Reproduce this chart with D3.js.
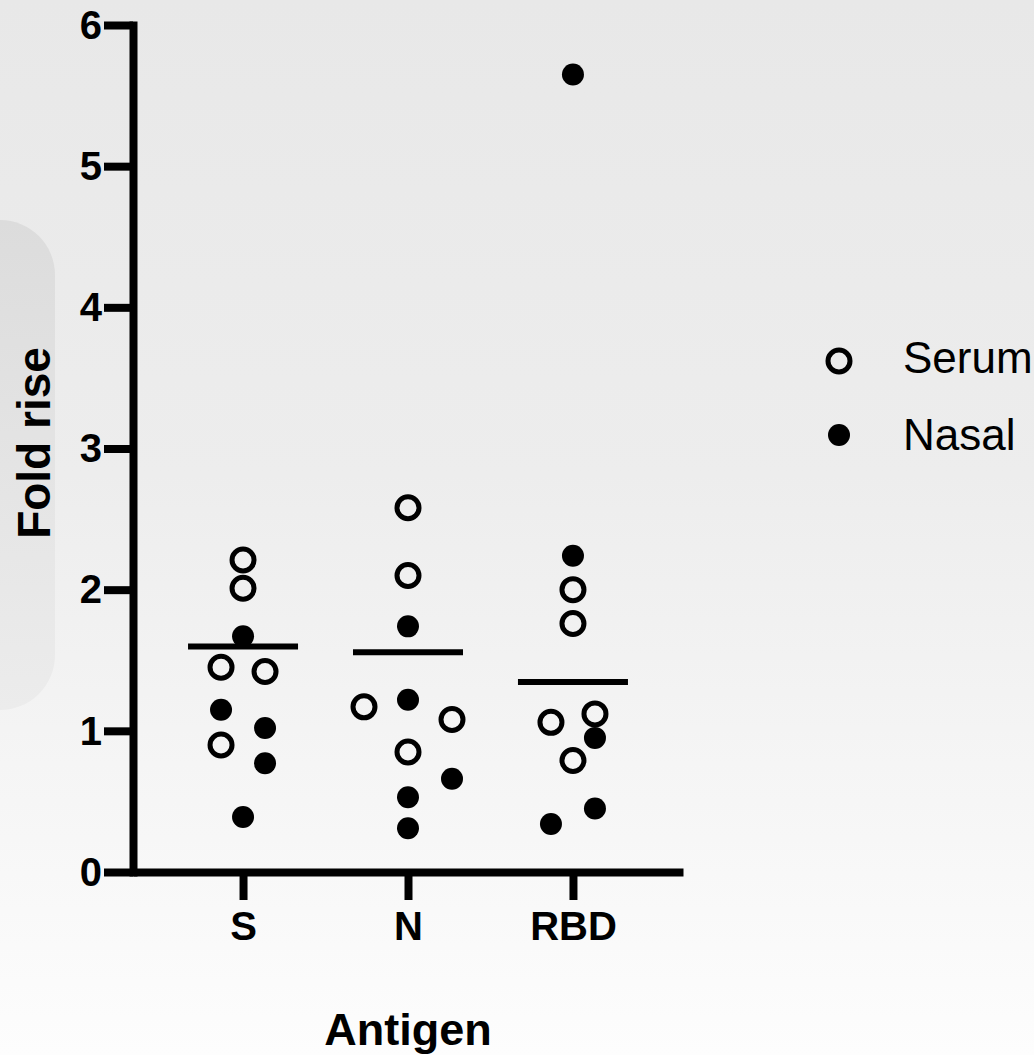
<!DOCTYPE html>
<html>
<head>
<meta charset="utf-8">
<script src="https://cdn.jsdelivr.net/npm/d3@7"></script>
<style>
  html, body { margin: 0; padding: 0; }
  svg { display: block; font-family: Arial, "Liberation Sans", Helvetica, sans-serif; }
</style>
</head>
<body>
<svg width="1034" height="1055"></svg>
<script>
const antigens = ["S", "N", "RBD"];
const yTicks = [0, 1, 2, 3, 4, 5, 6];

// fold rise per antigen, slot = column in the scatter row
const serum = {
    S:   [2.21, 2.01, 1.45, 1.42, 0.90],
    N:   [2.58, 2.10, 1.17, 1.08, 0.85],
    RBD: [2.00, 1.76, 1.06, 1.12, 0.79]
};
const serumSlot = {
    S:   [0, 0, -1, 1, -1],
    N:   [0, 0, -2, 2, 0],
    RBD: [0, 0, -1, 1, 0]
};
const nasal = {
    S:   [1.67, 1.15, 1.02, 0.77, 0.39],
    N:   [1.74, 1.22, 0.66, 0.53, 0.31],
    RBD: [5.65, 2.24, 0.95, 0.45, 0.34]
};
const nasalSlot = {
    S:   [0, -1, 1, 1, 0],
    N:   [0, 0, 2, 0, 0],
    RBD: [0, 0, 1, 1, -1]
};

const svg = d3.select("svg");

const defs = svg.append("defs");
const bg = defs.append("linearGradient").attr("id", "bg").attr("x1", 0).attr("y1", 0).attr("x2", 0).attr("y2", 1);
bg.append("stop").attr("offset", "0%").attr("stop-color", "#e8e8e8");
bg.append("stop").attr("offset", "45%").attr("stop-color", "#ededed");
bg.append("stop").attr("offset", "100%").attr("stop-color", "#fdfdfd");
const panel = defs.append("linearGradient").attr("id", "panel").attr("x1", 0).attr("y1", 0).attr("x2", 0).attr("y2", 1);
panel.append("stop").attr("offset", "0%").attr("stop-color", "#dcdcdc");
panel.append("stop").attr("offset", "100%").attr("stop-color", "#ececec");

svg.append("rect").attr("width", 1034).attr("height", 1055).attr("fill", "url(#bg)");
svg.append("rect")
    .attr("x", -60).attr("y", 220)
    .attr("width", 115).attr("height", 490)
    .attr("rx", 55)
    .attr("fill", "url(#panel)");

const x = d3.scalePoint().domain(antigens).range([133, 683]).padding(0.667);
const y = d3.scaleLinear().domain([0, 6]).range([872, 25]);
const slot = d3.scaleLinear().domain([-1, 1]).range([-22, 22]);

// y axis
const yAxis = svg.append("g")
    .attr("transform", "translate(133,0)")
    .call(d3.axisLeft(y).tickValues(yTicks).tickFormat(d3.format("d")).tickSize(29).tickSizeOuter(0).tickPadding(2));
yAxis.select(".domain").attr("stroke", "#000").attr("stroke-width", 8).attr("stroke-linecap", "square");
yAxis.selectAll(".tick line").attr("stroke", "#000").attr("stroke-width", 8);
yAxis.selectAll(".tick text")
    .attr("fill", "#000")
    .attr("font-size", 40)
    .attr("font-weight", "bold")
    .attr("dy", "0.33em");

// x axis
const xAxis = svg.append("g")
    .attr("transform", "translate(0,872)")
    .call(d3.axisBottom(x).tickSize(28).tickSizeOuter(0).tickPadding(12));
xAxis.select(".domain").attr("stroke", "#000").attr("stroke-width", 8);
xAxis.selectAll(".tick line").attr("stroke", "#000").attr("stroke-width", 8);
xAxis.selectAll(".tick text")
    .attr("fill", "#000")
    .attr("font-size", 40)
    .attr("font-weight", "bold");

svg.selectAll(".domain, .tick text").attr("font-family", null);
svg.selectAll("g").attr("font-family", null);

// axis titles
svg.append("text")
    .attr("transform", "translate(50,443) rotate(-90)")
    .attr("text-anchor", "middle")
    .attr("font-size", 46)
    .attr("font-weight", "bold")
    .text("Fold rise");

svg.append("text")
    .attr("x", 408)
    .attr("y", 1045)
    .attr("text-anchor", "middle")
    .attr("font-size", 45)
    .attr("font-weight", "bold")
    .text("Antigen");

// points
const serumPts = antigens.flatMap(a => serum[a].map((v, i) => ({ a: a, v: v, s: serumSlot[a][i] })));
const nasalPts = antigens.flatMap(a => nasal[a].map((v, i) => ({ a: a, v: v, s: nasalSlot[a][i] })));

svg.append("g").selectAll("circle")
    .data(serumPts)
    .join("circle")
    .attr("cx", d => x(d.a) + slot(d.s))
    .attr("cy", d => y(d.v))
    .attr("r", 11)
    .attr("fill", "none")
    .attr("stroke", "#000")
    .attr("stroke-width", 5);

svg.append("g").selectAll("circle")
    .data(nasalPts)
    .join("circle")
    .attr("cx", d => x(d.a) + slot(d.s))
    .attr("cy", d => y(d.v))
    .attr("r", 11)
    .attr("fill", "#000");

// mean of serum values
svg.append("g").selectAll("line")
    .data(antigens)
    .join("line")
    .attr("x1", d => x(d) - 55)
    .attr("x2", d => x(d) + 55)
    .attr("y1", d => y(d3.mean(serum[d])))
    .attr("y2", d => y(d3.mean(serum[d])))
    .attr("stroke", "#000")
    .attr("stroke-width", 6);

// legend
const legend = svg.append("g");
legend.append("circle")
    .attr("cx", 839).attr("cy", 361).attr("r", 11)
    .attr("fill", "none").attr("stroke", "#000").attr("stroke-width", 5);
legend.append("circle")
    .attr("cx", 839).attr("cy", 435).attr("r", 11)
    .attr("fill", "#000");
legend.append("text")
    .attr("x", 903).attr("y", 373)
    .attr("font-size", 44)
    .text("Serum");
legend.append("text")
    .attr("x", 903).attr("y", 450)
    .attr("font-size", 44)
    .text("Nasal");
</script>
</body>
</html>
